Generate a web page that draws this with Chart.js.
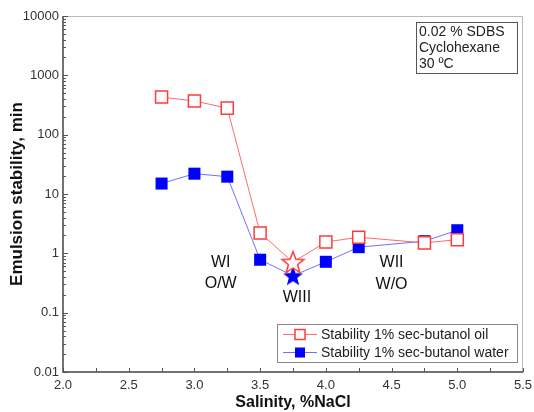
<!DOCTYPE html>
<html>
<head>
<meta charset="utf-8">
<script src="https://cdn.jsdelivr.net/npm/chart.js@4.4.1/dist/chart.umd.min.js"></script>
<style>
  html, body { margin: 0; padding: 0; background: #fff; }
  #wrap { width: 534px; height: 412px; }
</style>
</head>
<body>
<div id="wrap"><canvas id="chart"></canvas></div>
<script>
// ---- data ----
const salinity = [2.75, 3.0, 3.25, 3.5, 3.75, 4.0, 4.25, 4.75, 5.0];
const oilStability = [430, 370, 280, 2.2, 0.71, 1.55, 1.87, 1.5, 1.7];
const waterStability = [15, 22, 19.6, 0.78, 0.42, 0.72, 1.27, 1.6, 2.45];
const seriesLabels = ['Stability 1% sec-butanol oil', 'Stability 1% sec-butanol water'];
const xTickValues = [2.0, 2.5, 3.0, 3.5, 4.0, 4.5, 5.0, 5.5];
const yTickValues = [0.01, 0.1, 1, 10, 100, 1000, 10000];
const yTickLabels = ['0.01', '0.1', '1', '10', '100', '1000', '10000'];
const conditionLines = ['0.02 % SDBS', 'Cyclohexane', '30 \u00BAC'];
const starIndex = 4; // WIII point drawn as a star

const FONT = '"Liberation Sans", Arial, sans-serif';
const RED = '#ff3b3b';
const BLUE = '#0000ff';

// 5-point star marker as a small canvas
function makeStar(size, fill, stroke){
  const c = document.createElement('canvas');
  c.width = size; c.height = size;
  const g = c.getContext('2d');
  const cx = size/2, cy = size/2 + 1, ro = size/2 - 1.5, ri = ro * 0.42;
  g.beginPath();
  for (let i = 0; i < 10; i++){
    const r = i % 2 ? ri : ro;
    const a = -Math.PI/2 + i * Math.PI/5;
    const px = cx + r*Math.cos(a), py = cy + r*Math.sin(a);
    i ? g.lineTo(px, py) : g.moveTo(px, py);
  }
  g.closePath();
  g.fillStyle = fill; g.fill();
  if (stroke){ g.strokeStyle = stroke; g.lineWidth = 1.5; g.stroke(); }
  return c;
}
const redStar = makeStar(26, '#fff', RED);
const blueStar = makeStar(24, BLUE, null);

// inward ticks, frame, annotations, legend
const decorPlugin = {
  id: 'decor',
  afterDraw(chart){
    const {ctx, chartArea: a, scales: {x, y}} = chart;
    ctx.save();
    // light top/right frame
    ctx.strokeStyle = '#b8b8b8'; ctx.lineWidth = 1;
    ctx.beginPath();
    ctx.moveTo(a.left, a.top + 0.5); ctx.lineTo(a.right - 0.5, a.top + 0.5); ctx.lineTo(a.right - 0.5, a.bottom);
    ctx.stroke();
    // dark left/bottom axes
    ctx.strokeStyle = '#444'; ctx.lineWidth = 1.5;
    ctx.beginPath();
    ctx.moveTo(a.left, a.top); ctx.lineTo(a.left, a.bottom); ctx.lineTo(a.right, a.bottom);
    ctx.stroke();
    // ticks
    ctx.lineWidth = 1; ctx.strokeStyle = '#555';
    ctx.beginPath();
    for (let v = 2.0; v <= 5.5001; v += 0.25){
      const px = Math.round(x.getPixelForValue(v)) + 0.5;
      ctx.moveTo(px, a.bottom); ctx.lineTo(px, a.bottom - 4);
    }
    for (let d = -2; d <= 3; d++){
      for (let m = 1; m <= 9; m++){
        const py = Math.round(y.getPixelForValue(m * Math.pow(10, d))) + 0.5;
        ctx.moveTo(a.left, py); ctx.lineTo(a.left + (m === 1 ? 5 : 3), py);
      }
    }
    const pTop = Math.round(y.getPixelForValue(10000)) + 0.5;
    ctx.moveTo(a.left, pTop); ctx.lineTo(a.left + 5, pTop);
    ctx.stroke();

    // phase annotations
    ctx.fillStyle = '#111';
    ctx.font = '16px ' + FONT;
    ctx.textAlign = 'center'; ctx.textBaseline = 'middle';
    const txt = (t, xv, yv) => ctx.fillText(t, x.getPixelForValue(xv), y.getPixelForValue(yv));
    txt('WI', 3.2, 0.7); txt('O/W', 3.2, 0.31);
    txt('WIII', 3.78, 0.18);
    txt('WII', 4.5, 0.7); txt('W/O', 4.5, 0.3);

    // conditions box
    ctx.strokeStyle = '#555'; ctx.lineWidth = 1;
    ctx.strokeRect(416.5, 22.5, 101, 51);
    ctx.font = '14px ' + FONT; ctx.textAlign = 'left'; ctx.fillStyle = '#222';
    conditionLines.forEach((t, i) => ctx.fillText(t, 419, 32 + i * 16));

    // legend box
    ctx.fillStyle = '#fff';
    ctx.fillRect(277, 324, 240, 38);
    ctx.strokeStyle = '#888';
    ctx.strokeRect(277.5, 324.5, 240, 38);
    chart.data.datasets.forEach((ds, i) => {
      const cy = 334.5 + i * 18;
      ctx.strokeStyle = ds.borderColor; ctx.lineWidth = 1;
      ctx.beginPath(); ctx.moveTo(283, cy); ctx.lineTo(317, cy); ctx.stroke();
      ctx.fillStyle = ds.pointBackgroundColor; ctx.strokeStyle = ds.pointBorderColor;
      ctx.lineWidth = 1.5;
      ctx.fillRect(295, cy - 5, 10, 10);
      if (i === 0) ctx.strokeRect(295, cy - 5, 10, 10);
      ctx.fillStyle = '#222'; ctx.font = '14px ' + FONT;
      ctx.textAlign = 'left';
      ctx.fillText(ds.label, 321, cy + 1);
    });
    ctx.restore();
  }
};

const toPts = vals => salinity.map((s, i) => ({x: s, y: vals[i]}));

new Chart(document.getElementById('chart'), {
  type: 'line',
  data: {
    datasets: [
      {
        label: seriesLabels[0],
        data: toPts(oilStability),
        borderColor: '#ff6a6a', borderWidth: 1,
        pointBackgroundColor: '#fff', pointBorderColor: RED, pointBorderWidth: 1.5,
        pointRadius: 8.5,
        pointStyle: c => c.dataIndex === starIndex ? redStar : 'rect'
      },
      {
        label: seriesLabels[1],
        data: toPts(waterStability),
        borderColor: '#7070ff', borderWidth: 1,
        pointBackgroundColor: BLUE, pointBorderColor: BLUE, pointBorderWidth: 0,
        pointRadius: 8.5,
        pointStyle: c => c.dataIndex === starIndex ? blueStar : 'rect'
      }
    ]
  },
  options: {
    responsive: true, maintainAspectRatio: false, animation: false,
    layout: { padding: { top: 16, right: 11, left: 0, bottom: 0 } },
    plugins: { legend: { display: false }, tooltip: { enabled: false } },
    scales: {
      x: {
        type: 'linear', min: 2.0, max: 5.5,
        grid: { display: false, drawTicks: false }, border: { display: false },
        afterBuildTicks: s => { s.ticks = xTickValues.map(v => ({value: v})); },
        afterFit: s => { s.height = 40; s.paddingLeft = 0; s.paddingRight = 0; },
        ticks: { color: '#333', font: { family: FONT, size: 13 }, padding: 6,
                 maxRotation: 0, callback: v => v.toFixed(1) },
        title: { display: true, text: 'Salinity, %NaCl', color: '#111',
                 font: { family: FONT, size: 16, weight: 'bold' }, padding: { top: 0, bottom: 0 } }
      },
      y: {
        type: 'logarithmic', min: 0.01, max: 10000,
        grid: { display: false, drawTicks: false }, border: { display: false },
        afterBuildTicks: s => { s.ticks = yTickValues.map(v => ({value: v})); },
        afterFit: s => { s.width = 63; s.paddingTop = 0; s.paddingBottom = 0; },
        ticks: { color: '#333', font: { family: FONT, size: 13 }, padding: 4,
                 callback: (v) => yTickLabels[yTickValues.indexOf(v)] },
        title: { display: true, text: 'Emulsion stability, min', color: '#111',
                 font: { family: FONT, size: 17, weight: 'bold' }, padding: { top: 7, bottom: 2 } }
      }
    }
  },
  plugins: [decorPlugin]
});
</script>
</body>
</html>
